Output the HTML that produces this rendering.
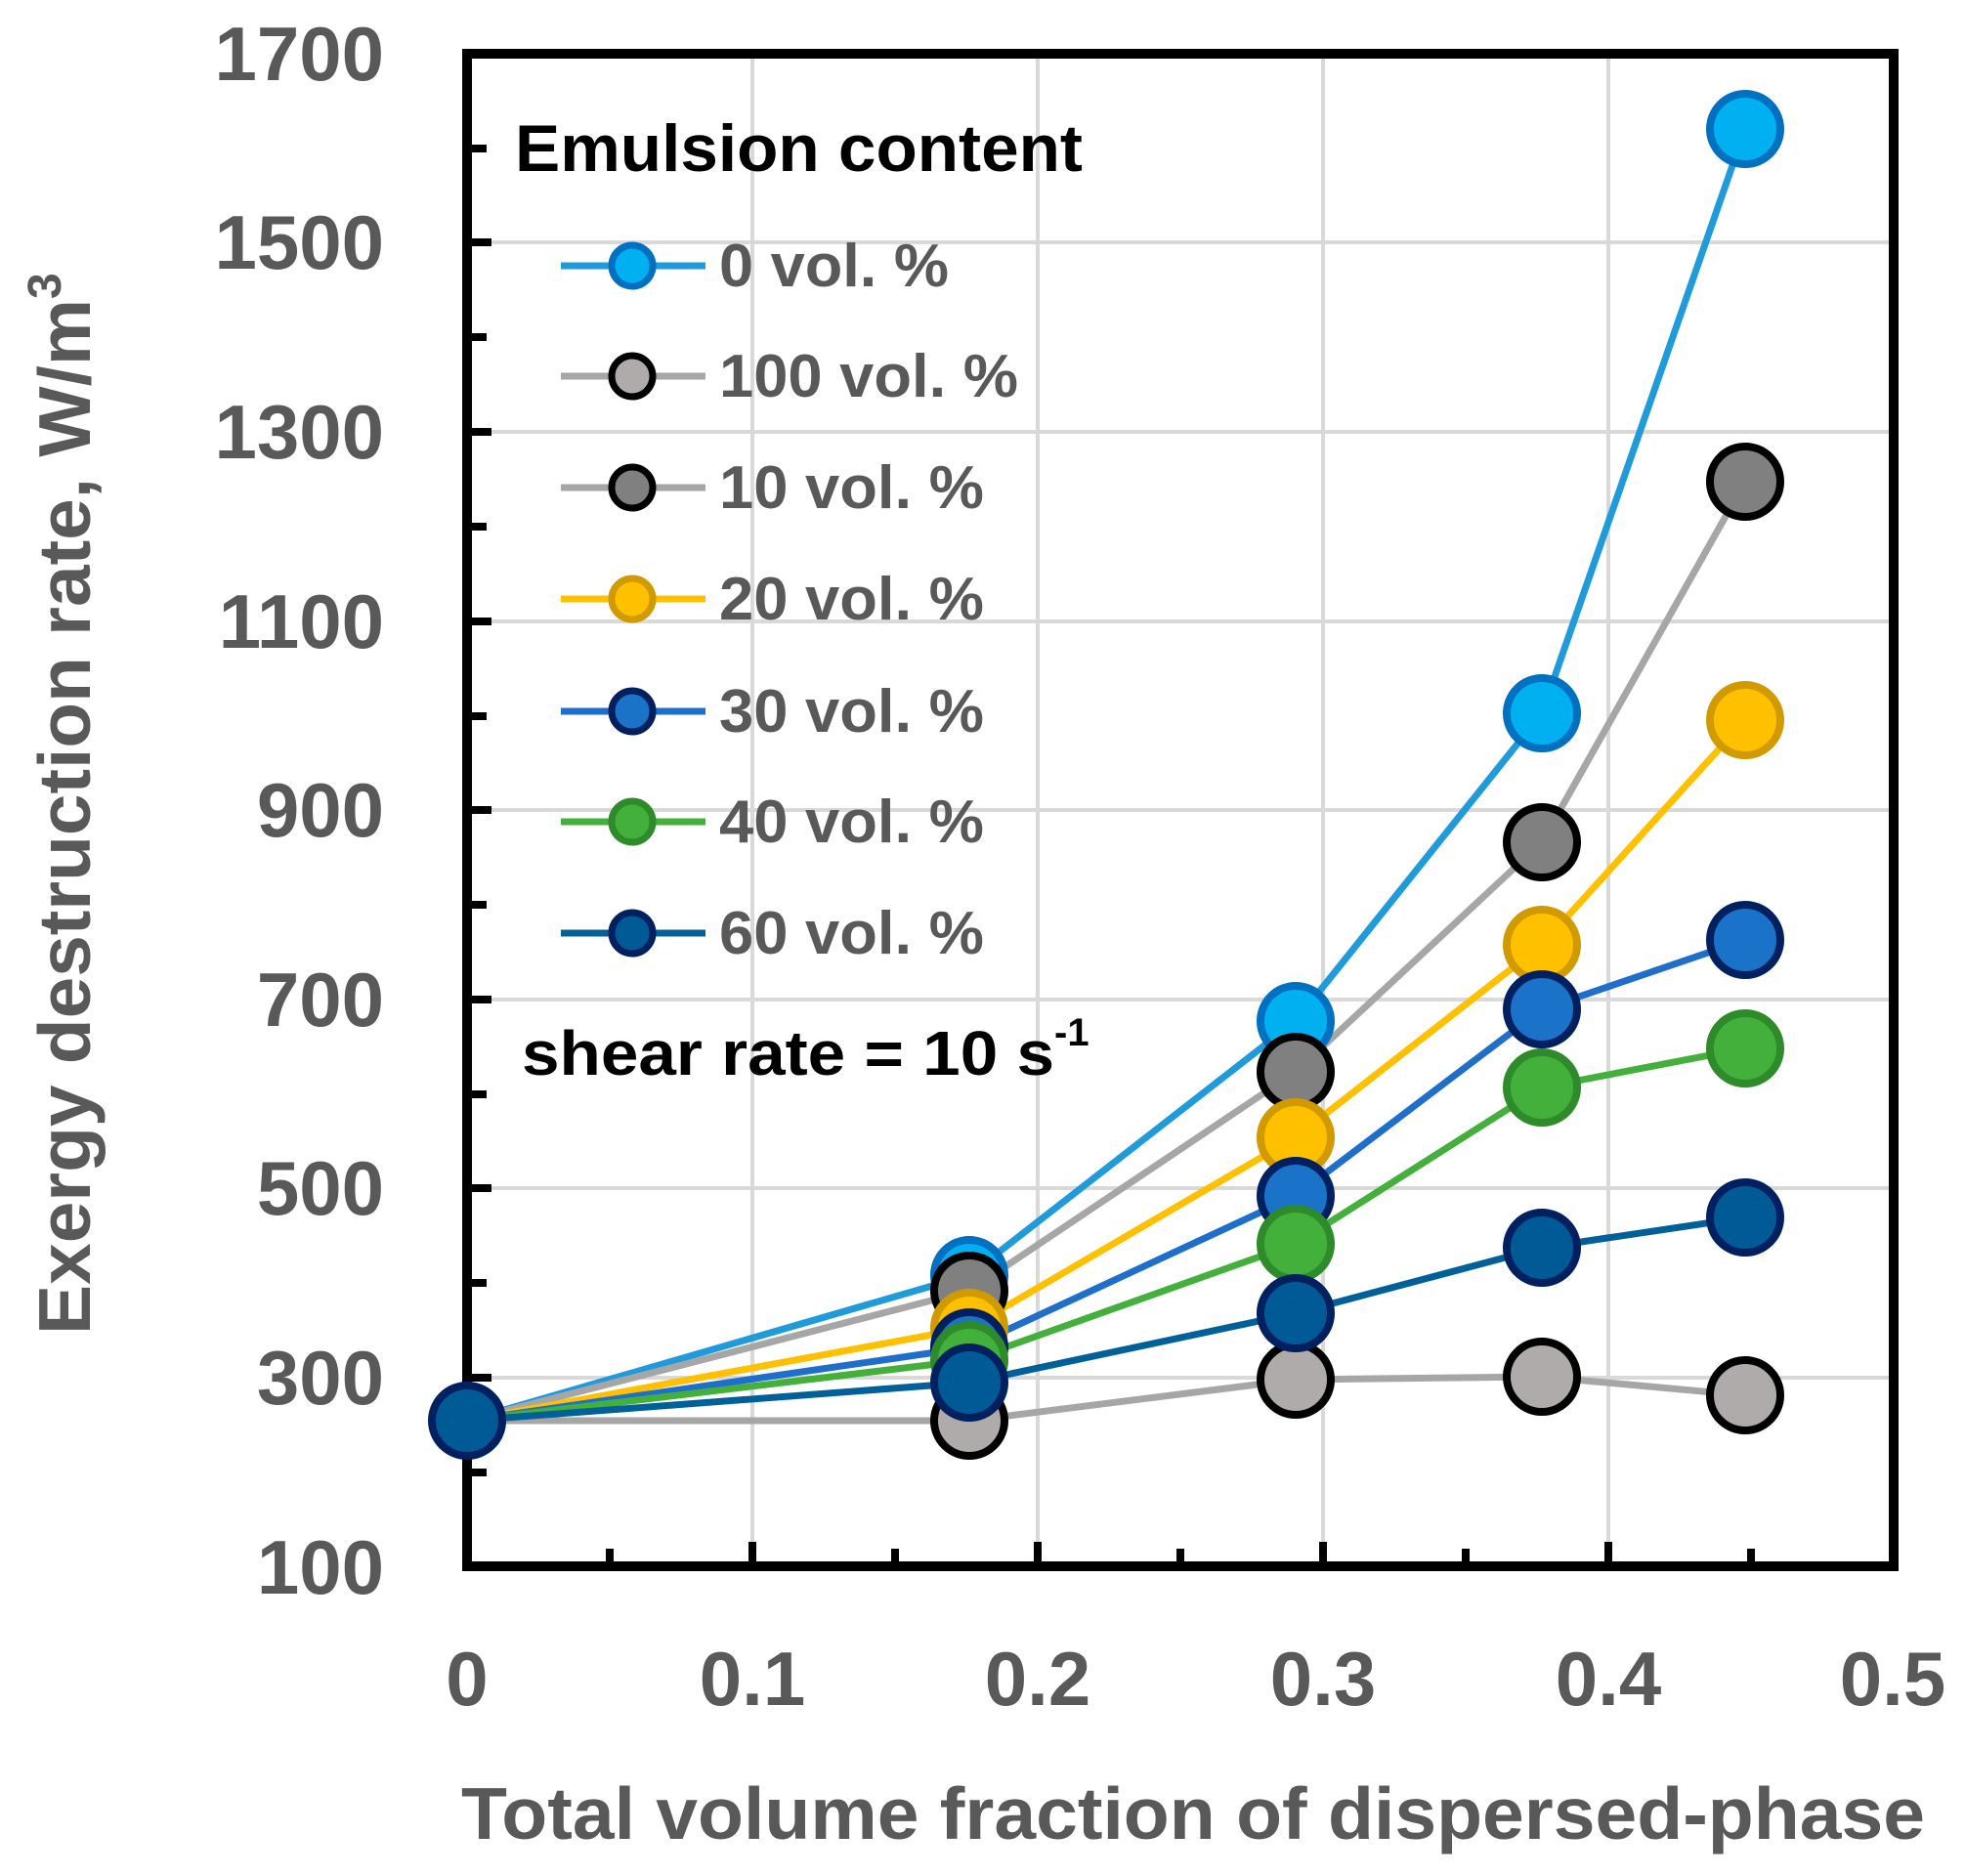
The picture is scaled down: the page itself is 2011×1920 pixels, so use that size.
<!DOCTYPE html>
<html><head><meta charset="utf-8"><style>html,body{margin:0;padding:0;background:#fff}svg{display:block}</style></head>
<body>
<svg width="2011" height="1920" viewBox="0 0 2011 1920" xmlns="http://www.w3.org/2000/svg" font-family="Liberation Sans, sans-serif" font-weight="bold">
<g stroke="#D9D9D9" stroke-width="4">
<line x1="478" y1="1410" x2="1938" y2="1410"/>
<line x1="478" y1="1216" x2="1938" y2="1216"/>
<line x1="478" y1="1023" x2="1938" y2="1023"/>
<line x1="478" y1="829" x2="1938" y2="829"/>
<line x1="478" y1="636" x2="1938" y2="636"/>
<line x1="478" y1="442" x2="1938" y2="442"/>
<line x1="478" y1="248" x2="1938" y2="248"/>
<line x1="770" y1="55" x2="770" y2="1603"/>
<line x1="1062" y1="55" x2="1062" y2="1603"/>
<line x1="1354" y1="55" x2="1354" y2="1603"/>
<line x1="1646" y1="55" x2="1646" y2="1603"/>
</g>
<g stroke="#000" stroke-width="8">
<line x1="478" y1="1507" x2="498" y2="1507"/>
<line x1="478" y1="1410" x2="503" y2="1410"/>
<line x1="478" y1="1313" x2="498" y2="1313"/>
<line x1="478" y1="1216" x2="503" y2="1216"/>
<line x1="478" y1="1120" x2="498" y2="1120"/>
<line x1="478" y1="1023" x2="503" y2="1023"/>
<line x1="478" y1="926" x2="498" y2="926"/>
<line x1="478" y1="829" x2="503" y2="829"/>
<line x1="478" y1="733" x2="498" y2="733"/>
<line x1="478" y1="636" x2="503" y2="636"/>
<line x1="478" y1="539" x2="498" y2="539"/>
<line x1="478" y1="442" x2="503" y2="442"/>
<line x1="478" y1="345" x2="498" y2="345"/>
<line x1="478" y1="248" x2="503" y2="248"/>
<line x1="478" y1="152" x2="498" y2="152"/>
<line x1="624" y1="1603" x2="624" y2="1585"/>
<line x1="770" y1="1603" x2="770" y2="1578"/>
<line x1="916" y1="1603" x2="916" y2="1585"/>
<line x1="1062" y1="1603" x2="1062" y2="1578"/>
<line x1="1208" y1="1603" x2="1208" y2="1585"/>
<line x1="1354" y1="1603" x2="1354" y2="1578"/>
<line x1="1500" y1="1603" x2="1500" y2="1585"/>
<line x1="1646" y1="1603" x2="1646" y2="1578"/>
<line x1="1792" y1="1603" x2="1792" y2="1585"/>
</g>
<rect x="478" y="55" width="1460" height="1548" fill="none" stroke="#000" stroke-width="10"/>
<g font-size="78" fill="#595959" text-anchor="end">
<text x="393" y="1631">100</text>
<text x="393" y="1437">300</text>
<text x="393" y="1243">500</text>
<text x="393" y="1050">700</text>
<text x="393" y="856">900</text>
<text x="393" y="663">1100</text>
<text x="393" y="469">1300</text>
<text x="393" y="275">1500</text>
<text x="393" y="82">1700</text>
</g>
<g font-size="78" fill="#595959" text-anchor="middle">
<text x="478" y="1745">0</text>
<text x="770" y="1745">0.1</text>
<text x="1062" y="1745">0.2</text>
<text x="1354" y="1745">0.3</text>
<text x="1646" y="1745">0.4</text>
<text x="1937" y="1745">0.5</text>
</g>
<text x="472" y="1882" font-size="75" fill="#595959" textLength="1498" lengthAdjust="spacingAndGlyphs">Total volume fraction of dispersed-phase</text>
<text transform="translate(92,1366) rotate(-90)" font-size="75" fill="#595959"><tspan textLength="1060" lengthAdjust="spacingAndGlyphs">Exergy destruction rate, W/m</tspan><tspan font-size="48" dy="-30">3</tspan></text>

<g stroke-width="7" fill="none" stroke-linejoin="round">
<polyline stroke="#1F9BDB" points="478,1454 992,1305 1326,1045 1578,730 1786,132"/>
<polyline stroke="#A6A6A6" points="478,1454 992,1454 1326,1412 1578,1409 1786,1428"/>
<polyline stroke="#A6A6A6" points="478,1454 992,1321 1326,1097 1578,862 1786,493"/>
<polyline stroke="#FFC000" points="478,1454 992,1359 1326,1164 1578,967 1786,737"/>
<polyline stroke="#1E6FCC" points="478,1454 992,1379 1326,1224 1578,1033 1786,962"/>
<polyline stroke="#44B03C" points="478,1454 992,1392 1326,1273 1578,1113 1786,1073"/>
<polyline stroke="#00619A" points="478,1454 992,1415 1326,1344 1578,1277 1786,1246"/>
</g>
<g stroke-width="8">
<g fill="#00B0F0" stroke="#0070C0"><circle cx="992" cy="1305" r="36"/><circle cx="1326" cy="1045" r="36"/><circle cx="1578" cy="730" r="36"/><circle cx="1786" cy="132" r="36"/></g>
<g fill="#AFABAB" stroke="#000"><circle cx="992" cy="1454" r="36"/><circle cx="1326" cy="1412" r="36"/><circle cx="1578" cy="1409" r="36"/><circle cx="1786" cy="1428" r="36"/></g>
<g fill="#808080" stroke="#000"><circle cx="992" cy="1321" r="36"/><circle cx="1326" cy="1097" r="36"/><circle cx="1578" cy="862" r="36"/><circle cx="1786" cy="493" r="36"/></g>
<g fill="#FFC000" stroke="#D09A00"><circle cx="992" cy="1359" r="36"/><circle cx="1326" cy="1164" r="36"/><circle cx="1578" cy="967" r="36"/><circle cx="1786" cy="737" r="36"/></g>
<g fill="#1A73C8" stroke="#002060"><circle cx="992" cy="1379" r="36"/><circle cx="1326" cy="1224" r="36"/><circle cx="1578" cy="1033" r="36"/><circle cx="1786" cy="962" r="36"/></g>
<g fill="#44B03C" stroke="#2E8B2A"><circle cx="992" cy="1392" r="36"/><circle cx="1326" cy="1273" r="36"/><circle cx="1578" cy="1113" r="36"/><circle cx="1786" cy="1073" r="36"/></g>
<g fill="#005A96" stroke="#002060"><circle cx="478" cy="1454" r="36"/><circle cx="992" cy="1415" r="36"/><circle cx="1326" cy="1344" r="36"/><circle cx="1578" cy="1277" r="36"/><circle cx="1786" cy="1246" r="36"/></g>
</g>

<text x="527" y="175" font-size="68" fill="#000" textLength="581" lengthAdjust="spacingAndGlyphs">Emulsion content</text>
<g stroke-width="7">
<line x1="574" y1="272" x2="722" y2="272" stroke="#1F9BDB"/><circle cx="647" cy="272" r="21" fill="#00B0F0" stroke="#0070C0"/>
<line x1="574" y1="385" x2="722" y2="385" stroke="#A6A6A6"/><circle cx="647" cy="385" r="21" fill="#AFABAB" stroke="#000"/>
<line x1="574" y1="499" x2="722" y2="499" stroke="#A6A6A6"/><circle cx="647" cy="499" r="21" fill="#808080" stroke="#000"/>
<line x1="574" y1="613" x2="722" y2="613" stroke="#FFC000"/><circle cx="647" cy="613" r="21" fill="#FFC000" stroke="#D09A00"/>
<line x1="574" y1="728" x2="722" y2="728" stroke="#1E6FCC"/><circle cx="647" cy="728" r="21" fill="#1A73C8" stroke="#002060"/>
<line x1="574" y1="841" x2="722" y2="841" stroke="#44B03C"/><circle cx="647" cy="841" r="21" fill="#44B03C" stroke="#2E8B2A"/>
<line x1="574" y1="955" x2="722" y2="955" stroke="#00619A"/><circle cx="647" cy="955" r="21" fill="#005A96" stroke="#002060"/>
</g>
<g font-size="62" fill="#595959" lengthAdjust="spacingAndGlyphs">
<text x="736" y="293" textLength="235" lengthAdjust="spacingAndGlyphs">0 vol. %</text>
<text x="736" y="406" textLength="306" lengthAdjust="spacingAndGlyphs">100 vol. %</text>
<text x="736" y="520" textLength="271" lengthAdjust="spacingAndGlyphs">10 vol. %</text>
<text x="736" y="634" textLength="271" lengthAdjust="spacingAndGlyphs">20 vol. %</text>
<text x="736" y="749" textLength="271" lengthAdjust="spacingAndGlyphs">30 vol. %</text>
<text x="736" y="862" textLength="271" lengthAdjust="spacingAndGlyphs">40 vol. %</text>
<text x="736" y="976" textLength="271" lengthAdjust="spacingAndGlyphs">60 vol. %</text>
</g>
<text x="534" y="1100" font-size="64" fill="#000"><tspan textLength="545" lengthAdjust="spacingAndGlyphs">shear rate = 10 s</tspan><tspan font-size="40" dy="-30">-1</tspan></text>
</svg>
</body></html>
